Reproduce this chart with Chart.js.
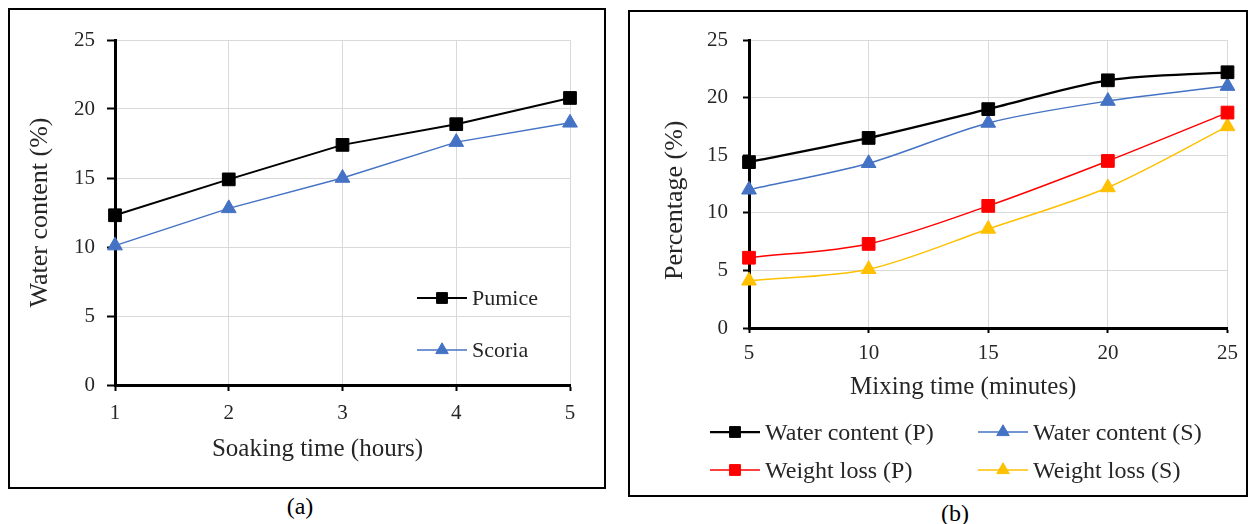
<!DOCTYPE html>
<html>
<head>
<meta charset="utf-8">
<script src="https://cdn.jsdelivr.net/npm/chart.js@4.4.1/dist/chart.umd.min.js"></script>
<style>
  html, body { margin: 0; padding: 0; background: #fff; }
  body { width: 1255px; height: 524px; position: relative; overflow: hidden;
         font-family: "Liberation Serif", "Times New Roman", serif; color: #262626; }
  .frame { position: absolute; border: 2px solid #000; box-sizing: border-box; }
  #frameA { left: 8px; top: 8px; width: 598px; height: 481px; }
  #frameB { left: 628px; top: 10px; width: 620px; height: 487px; }
  .plot { position: absolute; }
  #boxA { left: 10px; top: 10px; width: 594px; height: 477px; }
  #boxB { left: 630px; top: 12px; width: 616px; height: 483px; }
  .legend { position: absolute; display: grid; font-family: "Liberation Serif", "Times New Roman", serif; }
  #legendA { left: 417px; top: 285px; grid-template-columns: auto; row-gap: 26px; font-size: 22px; }
  #legendB { left: 710px; top: 419px; grid-template-columns: 268px auto; row-gap: 12px; font-size: 24px; }
  .item { display: flex; align-items: center; height: 26px; line-height: 26px; white-space: nowrap; }
  .item canvas { margin-right: 5px; }
  .caption { position: absolute; width: 100px; text-align: center; font-size: 24px; line-height: 28px; color: #000; }
  #capA { left: 250px; top: 492px; }
  #capB { left: 905px; top: 499px; }
</style>
</head>
<body>
<div class="frame" id="frameA"></div>
<div class="frame" id="frameB"></div>
<div class="plot" id="boxA"><canvas id="chartA"></canvas></div>
<div class="plot" id="boxB"><canvas id="chartB"></canvas></div>
<div class="legend" id="legendA"></div>
<div class="legend" id="legendB"></div>
<div class="caption" id="capA">(a)</div>
<div class="caption" id="capB">(b)</div>
<script>
// (a) water content vs soaking time
const soakHours = [1, 2, 3, 4, 5];
const pumiceWater = [12.3, 14.9, 17.4, 18.9, 20.8];
const scoriaWater = [10.1, 12.8, 15.0, 17.6, 19.0];

// (b) water content / weight loss vs mixing time
const mixMinutes = [5, 10, 15, 20, 25];
const waterP = [14.4, 16.5, 19.0, 21.5, 22.2];
const waterS = [12.0, 14.3, 17.8, 19.7, 21.0];
const lossP = [6.1, 7.3, 10.6, 14.5, 18.7];
const lossS = [4.1, 5.1, 8.6, 12.2, 17.5];

const serif = "'Liberation Serif', 'Times New Roman', serif";
const tickFont = { family: serif, size: 21 };
const ink = "#262626";

// titles sit a little off the axis centre in the original, trailing spaces push them over
const pad = (text, n) => text + " ".repeat(n);

const toPoints = (xs, ys) => xs.map((x, i) => ({ x: x, y: ys[i] }));

function series(label, xs, ys, color, width, style, radius, tension) {
  return {
    label: label,
    data: toPoints(xs, ys),
    borderColor: color,
    backgroundColor: color,
    borderWidth: width,
    pointStyle: style,
    pointRadius: radius,
    pointBorderWidth: 1,
    tension: tension,
    clip: false,
  };
}

function xAxis(min, max, step, title, o) {
  return {
    type: "linear",
    min: min,
    max: max,
    ticks: { stepSize: step, color: ink, font: tickFont, padding: o.tickPad, maxRotation: 0 },
    grid: { color: "#d9d9d9", tickColor: "#000", tickLength: o.tickLen, tickWidth: 2 },
    border: { color: "#000", width: 3 },
    title: { display: true, text: title, color: ink, font: { family: serif, size: 25 }, padding: { top: 0, bottom: o.titlePad } },
    afterFit: (s) => { s.height = o.size; },
  };
}

function yAxis(title, o) {
  return {
    min: 0,
    max: 25,
    ticks: { stepSize: 5, color: ink, font: tickFont, padding: o.tickPad },
    grid: { color: "#d9d9d9", tickColor: "#000", tickLength: o.tickLen, tickWidth: 2 },
    border: { color: "#000", width: 3 },
    title: { display: true, text: title, color: ink, font: { family: serif, size: 26 }, padding: { top: o.titlePad, bottom: 0 } },
    afterFit: (s) => { s.width = o.size; },
  };
}

function legendIcon(ds) {
  const c = document.createElement("canvas");
  c.width = 50;
  c.height = 20;
  const g = c.getContext("2d");
  g.strokeStyle = ds.borderColor;
  g.lineWidth = ds.borderWidth;
  g.beginPath();
  g.moveTo(0, 10);
  g.lineTo(50, 10);
  g.stroke();
  g.fillStyle = ds.backgroundColor;
  g.lineWidth = 1;
  Chart.helpers.drawPoint(g, { pointStyle: ds.pointStyle, radius: ds.pointRadius * 0.85, borderWidth: 1 }, 25, 10);
  return c;
}

function htmlLegend(chart, id) {
  const box = document.getElementById(id);
  chart.data.datasets.forEach((ds) => {
    const item = document.createElement("div");
    item.className = "item";
    item.appendChild(legendIcon(ds));
    const txt = document.createElement("span");
    txt.textContent = ds.label;
    item.appendChild(txt);
    box.appendChild(item);
  });
}

const chartA = new Chart(document.getElementById("chartA"), {
  type: "line",
  data: {
    datasets: [
      series("Pumice", soakHours, pumiceWater, "#000000", 2, "rect", 9, 0),
      series("Scoria", soakHours, scoriaWater, "#4472C4", 1.5, "triangle", 8.5, 0),
    ],
  },
  options: {
    responsive: true,
    maintainAspectRatio: false,
    animation: false,
    layout: { padding: { left: 0, top: 30, right: 34, bottom: 22 } },
    scales: {
      x: xAxis(1, 5, 1, pad("Soaking time (hours)", 8), { tickPad: 10, tickLen: 6, size: 80, titlePad: 1 }),
      y: yAxis("Water content (%)", { tickPad: 12, tickLen: 8, size: 105, titlePad: 15 }),
    },
    plugins: { legend: { display: false }, tooltip: { enabled: false } },
  },
});

const chartB = new Chart(document.getElementById("chartB"), {
  type: "line",
  data: {
    datasets: [
      series("Water content (P)", mixMinutes, waterP, "#000000", 2.25, "rect", 9, 0.3),
      series("Water content (S)", mixMinutes, waterS, "#4472C4", 1.5, "triangle", 8.5, 0.3),
      series("Weight loss (P)", mixMinutes, lossP, "#FF0000", 1.5, "rect", 9, 0.3),
      series("Weight loss (S)", mixMinutes, lossS, "#FFC000", 1.5, "triangle", 8.5, 0.3),
    ],
  },
  options: {
    responsive: true,
    maintainAspectRatio: false,
    animation: false,
    layout: { padding: { left: 0, top: 28, right: 17, bottom: 89 } },
    scales: {
      x: xAxis(5, 25, 5, pad("Mixing time (minutes)", 8), { tickPad: 8, tickLen: 5, size: 78, titlePad: 4 }),
      y: yAxis(pad("Percentage (%)", 5), { tickPad: 15, tickLen: 6, size: 119, titlePad: 30 }),
    },
    plugins: { legend: { display: false }, tooltip: { enabled: false } },
  },
});

htmlLegend(chartA, "legendA");
htmlLegend(chartB, "legendB");
</script>
</body>
</html>
